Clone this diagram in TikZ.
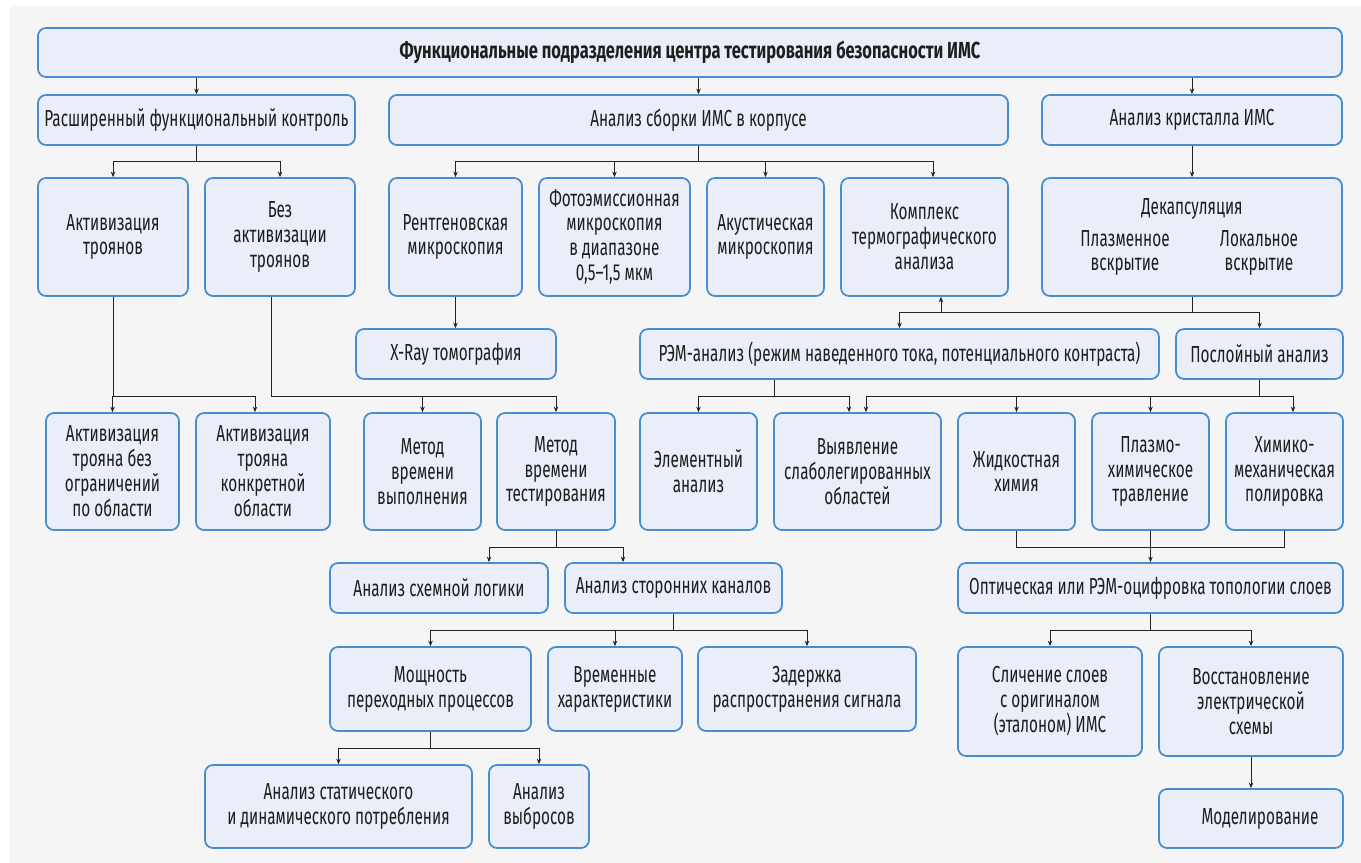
\documentclass[tikz,border=0pt]{standalone}
\usepackage{fontspec}
\setmainfont[FakeStretch=0.66]{Fira Sans}
\newfontfamily\headfont[FakeStretch=0.71]{Fira Sans}
\usetikzlibrary{arrows.meta}
\definecolor{bgcol}{RGB}{245,245,245}
\definecolor{boxfill}{RGB}{233,238,248}
\definecolor{boxline}{RGB}{70,142,208}
\definecolor{linecol}{RGB}{35,35,35}
\definecolor{txtcol}{RGB}{30,30,30}
\tikzset{
  blk/.style 2 args={draw=boxline, fill=boxfill, line width=1pt, rounded corners=1.6mm, align=center, inner sep=0pt, text=txtcol, minimum width=#1*0.2mm, minimum height=#2*0.2mm, font=\fontsize{13.2pt}{14.2pt}\selectfont},
  arr/.style={draw=linecol, line width=0.5pt, -{Stealth[length=1.1mm,width=0.9mm]}},
  ln/.style={draw=linecol, line width=0.5pt}
}
\begin{document}
\begin{tikzpicture}[x=0.2mm, y=-0.2mm]
\useasboundingbox (0,0) rectangle (1361,863);
\fill[bgcol] (10,6) rectangle (1361,863);
\node[blk={1304}{49}, font=\fontsize{13.2pt}{14.2pt}\headfont\bfseries] (top) at (690,52.5) {Функциональные подразделения центра тестирования безопасности ИМС};
\node[blk={317}{50}] (rfk) at (196.5,120) {Расширенный функциональный контроль};
\node[blk={619}{50}] (asb) at (698.5,120) {Анализ сборки ИМС в корпусе};
\node[blk={300}{50}] (akr) at (1192,120) {Анализ кристалла ИМС};
\node[blk={150}{118}] (akt) at (113,237) {Активизация\\троянов};
\node[blk={150}{118}] (bez) at (280,237) {Без\\активизации\\троянов};
\node[blk={133}{118}] (rent) at (455.5,237) {Рентгеновская\\микроскопия};
\node[blk={151}{118}] (foto) at (614.5,237) {Фотоэмиссионная\\микроскопия\\в диапазоне\\0,5–1,5 мкм};
\node[blk={117}{118}] (akust) at (765.5,237) {Акустическая\\микроскопия};
\node[blk={167}{118}] (kompl) at (924.5,237) {Комплекс\\термографического\\анализа};
\node[blk={300}{118}] (dekap) at (1192,237) {Декапсуляция\\[4pt]\parbox[t]{26.8mm}{\centering Плазменное\\вскрытие}\parbox[t]{26.8mm}{\centering Локальное\\вскрытие}};
\node[blk={200}{50}] (xray) at (456,354) {X-Ray томография};
\node[blk={519}{50}] (rem) at (899.5,354) {РЭМ-анализ (режим наведенного тока, потенциального контраста)};
\node[blk={167}{50}] (posl) at (1259.5,354) {Послойный анализ};
\node[blk={133}{117}] (tr1) at (112.5,471.5) {Активизация\\трояна без\\ограничений\\по области};
\node[blk={134}{117}] (tr2) at (263,471.5) {Активизация\\трояна\\конкретной\\области};
\node[blk={117}{117}] (mvv) at (422.5,471.5) {Метод\\времени\\выполнения};
\node[blk={118}{117}] (mvt) at (556,471.5) {Метод\\времени\\тестирования};
\node[blk={117}{117}] (elem) at (698.5,471.5) {Элементный\\анализ};
\node[blk={167}{117}] (slab) at (857.5,471.5) {Выявление\\слаболегированных\\областей};
\node[blk={117}{117}] (zhid) at (1016.5,471.5) {Жидкостная\\химия};
\node[blk={117}{117}] (plaz) at (1150.5,471.5) {Плазмо-\\химическое\\травление};
\node[blk={117}{117}] (him) at (1284.5,471.5) {Химико-\\механическая\\полировка};
\node[blk={218}{50}] (logik) at (439,588) {Анализ схемной логики};
\node[blk={217}{50}] (storon) at (673.5,588) {Анализ сторонних каналов};
\node[blk={385}{50}] (opt) at (1150.5,588) {Оптическая или РЭМ-оцифровка топологии слоев};
\node[blk={201}{84}] (mosh) at (430.5,689) {Мощность\\переходных процессов};
\node[blk={134}{84}] (vrem) at (615,689) {Временные\\характеристики};
\node[blk={218}{84}] (zader) at (807,689) {Задержка\\распространения сигнала};
\node[blk={184}{109}] (slich) at (1050,701.5) {Сличение слоев\\с оригиналом\\(эталоном) ИМС};
\node[blk={184}{109}] (vosst) at (1251,701.5) {Восстановление\\электрической\\схемы};
\node[blk={267}{83}] (stat) at (338.5,806.5) {Анализ статического\\и динамического потребления};
\node[blk={100}{83}] (vybr) at (539,806.5) {Анализ\\выбросов};
\node[blk={184}{59}] (model) at (1251,818.5) {\hspace*{3.6mm}Моделирование};
\draw[arr] (rfk.north |- top.south) -- (rfk.north);
\draw[arr] (asb.north |- top.south) -- (asb.north);
\draw[arr] (akr.north |- top.south) -- (akr.north);
\draw[arr] (rfk.south) -- ++(0,16) -| (akt.north);
\draw[arr] (rfk.south) -- ++(0,16) -| (bez.north);
\draw[arr] (asb.south) -- ++(0,16) -| (rent.north);
\draw[arr] (asb.south) -- ++(0,16) -| (foto.north);
\draw[arr] (asb.south) -- ++(0,16) -| (akust.north);
\draw[arr] (asb.south) -- ++(0,16) -| ([xshift=1.7mm]kompl.north);
\draw[arr] (akr.south) -- (dekap.north);
\draw[arr] (rent.south) -- (rent.south |- xray.north);
\draw[arr] (dekap.south) -- ++(0,16) -| (rem.north);
\draw[arr] (dekap.south) -- ++(0,16) -| (posl.north);
\draw[arr] (dekap.south) -- ++(0,16) -| ([xshift=3.3mm]kompl.south);
\draw[arr] (akt.south) -- ++(0,100) -| (tr1.north);
\draw[arr] (akt.south) -- ++(0,100) -| ([xshift=-1.6mm]tr2.north);
\draw[arr] ([xshift=-1.8mm]bez.south) -- ++(0,100) -| (mvv.north);
\draw[arr] ([xshift=-1.8mm]bez.south) -- ++(0,100) -| (mvt.north);
\draw[arr] ([xshift=-25.1mm]rem.south) -- ++(0,17) -| (elem.north);
\draw[arr] ([xshift=-25.1mm]rem.south) -- ++(0,17) -| ([xshift=-1.7mm]slab.north);
\draw[arr] (posl.south) -- ++(0,17) -| ([xshift=1.7mm]slab.north);
\draw[arr] (posl.south) -- ++(0,17) -| (zhid.north);
\draw[arr] (posl.south) -- ++(0,17) -| (plaz.north);
\draw[arr] (posl.south) -- ++(0,17) -| ([xshift=1.7mm]him.north);
\draw[arr] (mvt.south) -- ++(0,17) -| ([xshift=10mm]logik.north);
\draw[arr] (mvt.south) -- ++(0,17) -| ([xshift=-10.1mm]storon.north);
\draw[ln] (zhid.south) -- ++(0,17) -| (him.south);
\draw[arr] (plaz.south) -- (opt.north);
\draw[arr] (storon.south) -- ++(0,17) -| (mosh.north);
\draw[arr] (storon.south) -- ++(0,17) -| (vrem.north);
\draw[arr] (storon.south) -- ++(0,17) -| (zader.north);
\draw[arr] (opt.south) -- ++(0,17) -| (slich.north);
\draw[arr] (opt.south) -- ++(0,17) -| (vosst.north);
\draw[arr] (mosh.south) -- ++(0,17) -| (stat.north);
\draw[arr] (mosh.south) -- ++(0,17) -| (vybr.north);
\draw[arr] (vosst.south) -- (model.north);
\end{tikzpicture}
\end{document}
